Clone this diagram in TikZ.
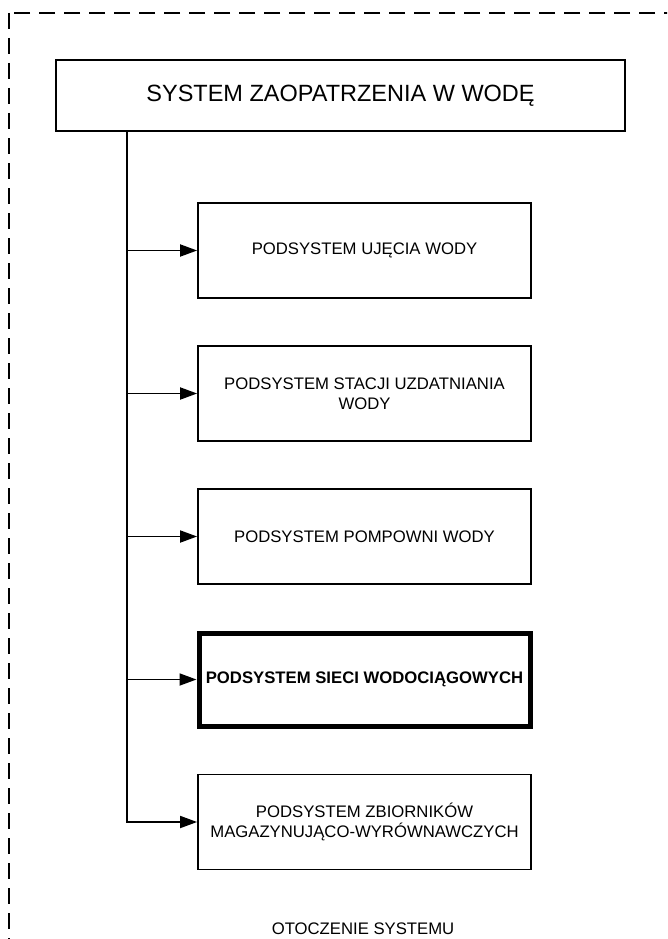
\documentclass[tikz,border=0pt]{standalone}
\usepackage{fontspec}
\setmainfont{Liberation Sans}
\usetikzlibrary{arrows.meta}
\begin{document}
\begin{tikzpicture}[x=1pt,y=-1pt,
  box/.style={draw, line width=1.8pt, minimum width=333pt, minimum height=95pt, inner sep=0pt, align=center, font=\fontsize{16.7}{20}\selectfont},
  boldbox/.style={box, line width=5pt, minimum width=331pt, minimum height=93pt, font=\fontsize{16.7}{20}\selectfont\bfseries},
  titlebox/.style={draw, line width=1.8pt, minimum width=569pt, minimum height=71pt, inner sep=0pt, font=\fontsize{23.5}{28}\selectfont},
  conn/.style={line width=1.8pt},
  arr/.style={conn, -{Triangle[length=17pt,width=12pt]}},
  border/.style={line width=2pt, dash pattern=on 16pt off 9pt},
  envlabel/.style={font=\fontsize{16.7}{20}\selectfont, inner sep=0pt},
]
\clip (0,0) rectangle (667,939);
\draw[border] (9,13) rectangle (720,1000);

\node[titlebox] (main) at (340.5,95.5) {SYSTEM ZAOPATRZENIA W WODĘ};

\node[box] (b1) at (364.5,250.5) {PODSYSTEM UJĘCIA WODY};
\node[box] (b2) at (364.5,393.5) {PODSYSTEM STACJI UZDATNIANIA\\WODY};
\node[box] (b3) at (364.5,536.5) {PODSYSTEM POMPOWNI WODY};
\node[boldbox] (b4) at (364.5,679.5) {PODSYSTEM SIECI WODOCIĄGOWYCH};
\node[box] (b5) at (364.5,822) {PODSYSTEM ZBIORNIKÓW\\MAGAZYNUJĄCO-WYRÓWNAWCZYCH};

\coordinate (trunk) at (127,822);
\draw[arr] (main.south -| trunk) |- (b5.west);
\draw[arr] (b1.west -| trunk) -- (b1.west);
\draw[arr] (b2.west -| trunk) -- (b2.west);
\draw[arr] (b3.west -| trunk) -- (b3.west);
\draw[arr] (b4.west -| trunk) -- (b4.west);

\node[envlabel, anchor=base] (env) at (363,934) {OTOCZENIE SYSTEMU};
\end{tikzpicture}
\end{document}
